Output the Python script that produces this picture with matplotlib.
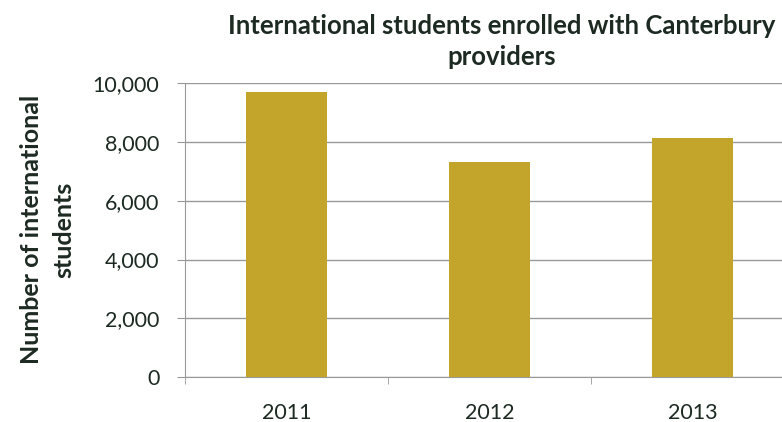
import matplotlib
matplotlib.use('Agg')
import matplotlib.pyplot as plt
from matplotlib.ticker import FuncFormatter, FixedLocator

years = ['2011', '2012', '2013']
students = [9720, 7330, 8130]
yticks = [0, 2000, 4000, 6000, 8000, 10000]

bar_color = '#C4A52C'
text_color = '#1c2a22'
grid_color = '#999999'

plt.rcParams['font.family'] = ['Lato', 'DejaVu Sans']

W, H = 782, 422
fig = plt.figure(figsize=(W / 100, H / 100), dpi=100)
ax = fig.add_axes([185 / W, 1 - 377 / H, 609 / W, (377 - 83.3) / H])

x = list(range(len(years)))
ax.bar(x, students, width=0.40, color=bar_color, zorder=3)

ax.set_xlim(-0.5, len(years) - 0.5)
ax.set_ylim(0, 10000)
ax.set_yticks(yticks)
ax.yaxis.set_major_formatter(FuncFormatter(lambda v, p: f'{int(v):,}'))
ax.grid(axis='y', color=grid_color, linewidth=1.0, zorder=0)

ax.set_xticks(x)
ax.set_xticklabels(years)
ax.xaxis.set_minor_locator(FixedLocator([i - 0.5 for i in range(len(years) + 1)]))
ax.tick_params(axis='x', which='major', length=0, pad=19, labelsize=15.5, labelcolor=text_color)
ax.tick_params(axis='x', which='minor', length=5, color=grid_color, direction='out')
ax.tick_params(axis='y', length=6, color=grid_color, pad=12.5, labelsize=15.5, labelcolor=text_color)

for side in ['top', 'right']:
    ax.spines[side].set_visible(False)
ax.spines['left'].set_color(grid_color)
ax.spines['bottom'].set_color(grid_color)

# two-line title, placed line by line
title_kw = dict(ha='center', va='baseline', fontsize=18.5, fontweight='bold', color=text_color)
fig.text(502 / W, 1 - 34 / H, 'International students enrolled with Canterbury', **title_kw)
fig.text(502 / W, 1 - 65 / H, 'providers', **title_kw)

ylab_kw = dict(ha='center', va='center', rotation=90, fontsize=18,
               fontweight='bold', color=text_color)
fig.text(32 / W, 1 - 229 / H, 'Number of international', **ylab_kw)
fig.text(64 / W, 1 - 230 / H, 'students', **ylab_kw)

fig.savefig('out.png', dpi=100)
